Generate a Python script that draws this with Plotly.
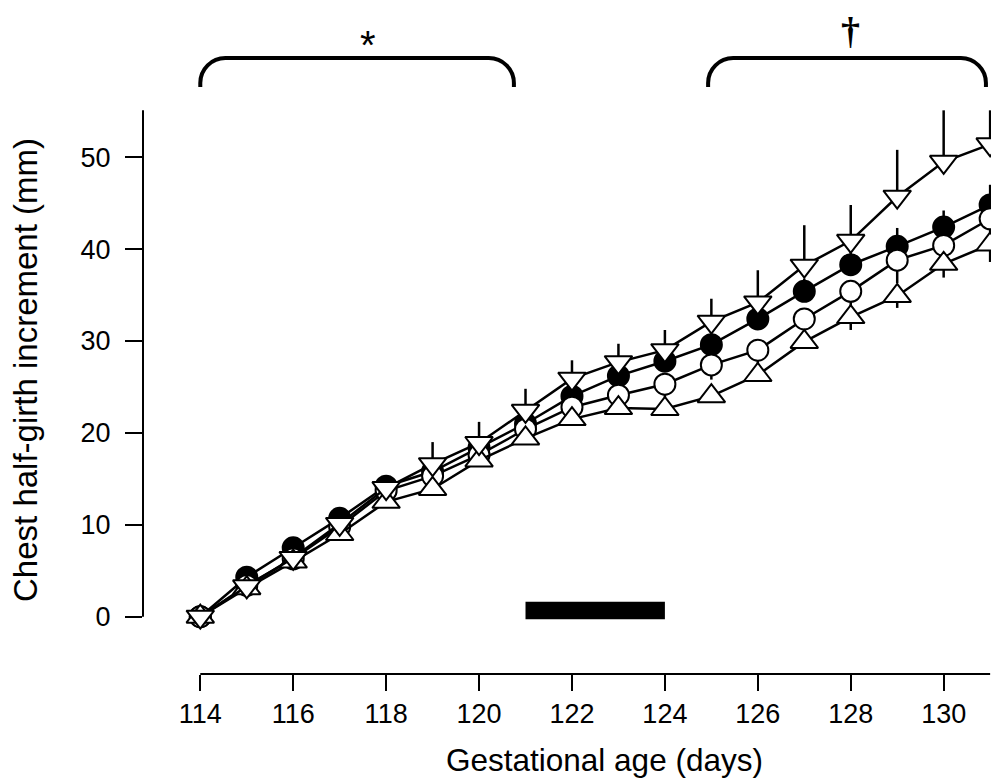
import plotly.graph_objects as go

# ---- data ----
days = list(range(114, 132))

filled_circle = [0, 4.3, 7.5, 10.7, 14.2, 15.8, 18.4, 21.0, 24.0, 26.2, 27.8, 29.6, 32.4, 35.4, 38.3, 40.3, 42.4, 44.8]
filled_err_up = [0, 0.6, 0.6, 0.6, 0.6, 0.8, 0.8, 1.0, 1.0, 1.0, 1.0, 1.2, 1.2, 1.4, 1.5, 2.0, 1.8, 2.2]

open_circle = [0, 3.4, 6.3, 9.8, 13.7, 15.3, 17.6, 20.4, 22.8, 24.1, 25.3, 27.4, 29.0, 32.4, 35.4, 38.8, 40.4, 43.3]
open_err_down = [0, 0.6, 0.6, 0.8, 0.8, 1.0, 1.0, 1.2, 1.2, 1.4, 1.4, 1.6, 1.8, 2.0, 2.5, 2.5, 2.5, 2.5]

up_triangle = [0, 3.1, 6.0, 9.0, 12.5, 13.9, 17.0, 19.4, 21.5, 22.7, 22.6, 24.0, 26.3, 29.9, 32.6, 34.9, 38.4, 40.5]
up_err_down = [0, 0.5, 0.5, 0.5, 0.5, 0.5, 0.5, 0.6, 0.6, 0.6, 0.6, 0.6, 0.6, 0.6, 1.4, 1.3, 1.5, 1.9]

down_triangle = [0, 3.3, 6.4, 10.1, 14.0, 16.6, 18.9, 22.4, 25.9, 27.7, 29.0, 32.1, 34.2, 38.2, 40.9, 45.7, 49.5, 51.4]
down_err_up = [0, 0.5, 0.5, 0.5, 0.6, 2.4, 2.3, 2.4, 2.0, 2.0, 2.2, 2.5, 3.5, 4.4, 3.9, 5.1, 5.6, 3.7]

x_ticks = [114, 116, 118, 120, 122, 124, 126, 128, 130]
y_ticks = [0, 10, 20, 30, 40, 50]

treatment_period = (121, 124)
bracket_star = (114.0, 120.75)
bracket_dagger = (124.93, 130.91)

x_title = "Gestational age (days)"
y_title = "Chest half-girth increment (mm)"

# ---- figure ----
FONT = "Liberation Sans, Arial, sans-serif"
fig = go.Figure()

zeros = [0] * len(days)

def add_series(y, symbol, fill, size, up, down):
    fig.add_trace(go.Scatter(
        x=days, y=y, mode="lines+markers",
        line=dict(color="black", width=2.5),
        marker=dict(symbol=symbol, size=size, color=fill,
                    line=dict(color="black", width=2)),
        error_y=dict(type="data", symmetric=False, array=up, arrayminus=down,
                     color="black", thickness=2.5, width=0),
        cliponaxis=False, showlegend=False,
    ))

add_series(filled_circle, "circle", "black", 21, filled_err_up, zeros)
add_series(open_circle, "circle", "white", 21, zeros, open_err_down)
add_series(up_triangle, "triangle-up", "white", 24, zeros, up_err_down)
add_series(down_triangle, "triangle-down", "white", 24, down_err_up, zeros)

shapes = []
# detached axis lines
shapes.append(dict(type="line", xref="paper", yref="y", x0=0, x1=0, y0=0, y1=55.1,
                   line=dict(color="black", width=2)))
shapes.append(dict(type="line", xref="x", yref="paper", x0=114, x1=131, y0=0, y1=0,
                   line=dict(color="black", width=2)))
# treatment bar
shapes.append(dict(type="rect", xref="x", yref="y", x0=treatment_period[0], x1=treatment_period[1],
                   y0=-0.28, y1=1.63, fillcolor="black", line=dict(width=0)))

# brackets
yt, yb = 60.79, 57.64
rh, rv, k = 0.54, 2.72, 0.5523

def bracket(x0, x1):
    p = (f"M {x0},{yb} L {x0},{yt - rv} "
         f"C {x0},{yt - rv + k * rv} {x0 + rh - k * rh},{yt} {x0 + rh},{yt} "
         f"L {x1 - rh},{yt} "
         f"C {x1 - rh + k * rh},{yt} {x1},{yt - rv + k * rv} {x1},{yt - rv} "
         f"L {x1},{yb}")
    return dict(type="path", xref="x", yref="y", path=p, line=dict(color="black", width=4))

shapes.append(bracket(*bracket_star))
shapes.append(bracket(*bracket_dagger))

annotations = [
    dict(text="*", x=117.61, y=62.75, xref="x", yref="y", showarrow=False,
         font=dict(family=FONT, size=40, color="black"), yanchor="middle", yshift=-5),
    dict(text="<b>†</b>", x=128.0, y=1.0, xref="x", yref="paper", showarrow=False,
         font=dict(family="Liberation Serif, Times New Roman, serif", size=38, color="black"),
         yanchor="top"),
    dict(text=x_title, x=122.71, y=-0.129, xref="x", yref="paper", showarrow=False,
         font=dict(family=FONT, size=31.5, color="black"), yanchor="middle"),
    dict(text=y_title, x=-0.1379, y=27.06, xref="paper", yref="y", showarrow=False,
         textangle=-90, font=dict(family=FONT, size=33, color="black"), xanchor="center",
         yanchor="middle", yshift=-2),
]

fig.update_layout(
    width=991, height=776,
    margin=dict(l=135, r=0, t=0, b=110, pad=0),
    paper_bgcolor="white", plot_bgcolor="white",
    shapes=shapes, annotations=annotations, showlegend=False,
    xaxis=dict(range=[112.767, 131.191], tickvals=x_ticks, ticks="outside", ticklen=16,
               tickwidth=2, tickcolor="black", showline=False, showgrid=False, zeroline=False,
               tickfont=dict(family=FONT, size=27, color="black")),
    yaxis=dict(range=[-6.235, 66.235], tickvals=y_ticks, ticks="outside", ticklen=17,
               tickwidth=2, tickcolor="black", showline=False, showgrid=False, zeroline=False,
               ticklabelstandoff=9,
               tickfont=dict(family=FONT, size=27, color="black")),
)

fig.write_html("out.html")
